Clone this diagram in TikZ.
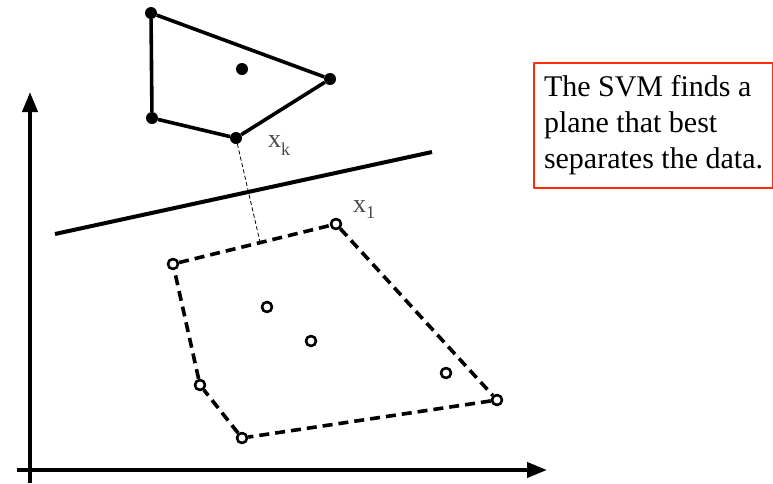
\documentclass[tikz,border=0pt]{standalone}
\usepackage{fontspec}
\setmainfont{Liberation Serif}
\usetikzlibrary{arrows.meta}
\definecolor{noteRed}{HTML}{FF2D0A}
\definecolor{labelGray}{HTML}{4A4A4A}
\begin{document}
\begin{tikzpicture}[x=1pt, y=-1pt, line join=round, >={Triangle[length=20pt,width=15pt]}]
	\tikzset{axis/.style={line width=4pt,->},
		hull/.style={line width=3.6pt},
		dot/.style={circle, fill, inner sep=0pt, minimum size=12pt},
		ring/.style={circle, draw, line width=2.6pt, fill=white, inner sep=0pt, minimum size=10pt},
		ptlabel/.style={anchor=base west, inner sep=0pt, text=labelGray, font=\fontsize{26}{30}\selectfont}}
	\useasboundingbox (0,0) rectangle (773,483);
	\path (30,483) coordinate (Y0)
	(30,92) coordinate (Y1)
	(17,470) coordinate (X0)
	(547,470) coordinate (X1)
	(55,234) coordinate (H0)
	(432,152) coordinate (H1)
	(260,242) coordinate (F)
	;
	\draw[axis] (Y0) -- (Y1);
	\draw[axis] (X0) -- (X1);
	\draw[line width=4pt] (H0) -- (H1);
	% solid class
	\foreach \p/\xy in {P1/{151,13},P2/{330,79},Pk/{236,138},P4/{152,118},P5/{242,69}}
	\node[dot] (\p) at (\xy) {};
	\draw[hull] (P1) -- (P2) -- (Pk) -- (P4) -- (P1);
	% hollow class
	\foreach \q/\xy in {Q1/{173,264},Ql/{336,224},Q3/{497,400},Q4/{242,438},Q5/{200,385},Q6/{267,307},Q7/{311,341},Q8/{446,373}}
	\node[ring] (\q) at (\xy) {};
	\draw[hull, dash pattern=on 10pt off 6pt] (Q1) -- (Ql) -- (Q3) -- (Q4) -- (Q5) -- (Q1);
	\draw[line width=0.8pt, dash pattern=on 4pt off 2.5pt] (Pk) -- (F);
	\node[ptlabel] (xk) at (268,147) {x\raisebox{-8pt}{\fontsize{18}{18}\selectfont k}};
	\node[ptlabel] (xl) at (353,212) {x\raisebox{-6pt}{\fontsize{18}{18}\selectfont 1}};
	\node[draw=noteRed, line width=2pt, anchor=north west, align=left, inner xsep=10pt, inner ysep=12.5pt, font=\fontsize{30}{36}\selectfont] (note) at (533,62) {The SVM finds a\\plane that best\\separates the data.};
\end{tikzpicture}
\end{document}
